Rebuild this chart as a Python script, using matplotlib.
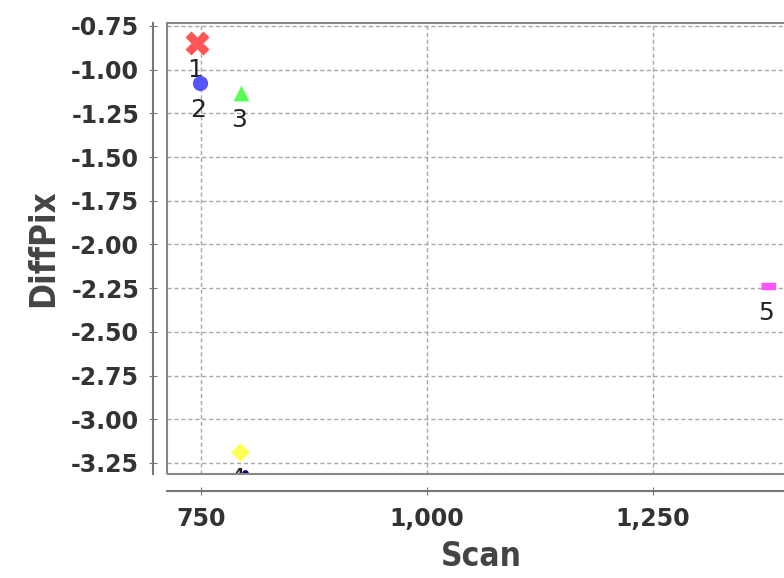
import matplotlib
matplotlib.use('Agg')
import matplotlib.pyplot as plt
from matplotlib.patches import Rectangle

# points
labels = ['1', '2', '3', '4', '5']
scan = [745.6, 749.0, 794.0, 793.0, 1377.0]
diffpix = [-0.847, -1.075, -1.132, -3.187, -2.236]
colors = ['#ff5555', '#5555ff', '#55ff55', '#ffff55', '#ff55ff']
markers = ['X', 'o', '^', 'D', 's']

# stray dark blue dot near the bottom edge
extra_x = [799.0]
extra_y = [-3.31]

xticks = [750, 1000, 1250]
xticklabels = ['750', '1,000', '1,250']
yticks = [-3.25, -3.0, -2.75, -2.5, -2.25, -2.0, -1.75, -1.5, -1.25, -1.0, -0.75]

W, H = 784, 578
fig = plt.figure(figsize=(W / 100, H / 100), dpi=100)
x0, x1 = 712.4, 1407
pxu = 0.904
ax = fig.add_axes([167 / W, 1 - 474 / H, (x1 - x0) * pxu / W, (474 - 23) / H])

for sp in ['top', 'right']:
    ax.spines[sp].set_visible(False)
ax.spines['left'].set_position(('outward', 10))
ax.spines['bottom'].set_position(('outward', 12))
for sp in ['left', 'bottom']:
    ax.spines[sp].set_color('#777777')
    ax.spines[sp].set_linewidth(1.5)
ax.add_patch(Rectangle((0, 0), 1, 1, transform=ax.transAxes, fill=False,
                       ec='#888888', lw=1.5, clip_on=False, zorder=5))

ax.set_xticks(xticks)
ax.set_xticklabels(xticklabels)
ax.set_yticks(yticks)
ax.set_yticklabels(['%.2f' % v for v in yticks])
ax.set_xlim(x0, x1)
ax.set_ylim(-3.313, -0.733)
ax.tick_params(direction='inout', length=6, color='#777777', labelsize=17,
               labelcolor='#333333')
for t in ax.get_xticklabels() + ax.get_yticklabels():
    t.set_fontweight('bold')
ax.tick_params(axis='y', pad=7)
ax.tick_params(axis='x', pad=9)

ax.grid(True, linestyle=(0, (3, 2)), color='#a8a8a8', linewidth=1)
ax.set_axisbelow(True)

sizes = [300, 120, 130, 90, 100]
for i in range(len(scan)):
    if markers[i] == 's':
        ax.scatter(scan[i], diffpix[i], marker=[(-1, -0.5), (1, -0.5), (1, 0.5), (-1, 0.5)],
                   s=sizes[i], color=colors[i], zorder=3)
    else:
        ax.scatter(scan[i], diffpix[i], marker=markers[i], s=sizes[i],
                   color=colors[i], zorder=3, linewidths=0)
    t = ax.annotate(labels[i], (scan[i], diffpix[i]), xytext=(-2, -27),
                    textcoords='offset pixels', ha='center', va='center',
                    fontsize=18, color='#222222', clip_on=True)
    t.set_clip_path(ax.patch)

ax.scatter(extra_x, extra_y, s=14, color='#000080', zorder=3)

ax.set_xlabel('Scan', fontsize=24, fontweight='bold', fontstretch='condensed',
              color='#444444', labelpad=6)
ax.set_ylabel('DiffPix', fontsize=25, fontweight='bold', fontstretch='condensed',
              color='#444444', labelpad=8)

fig.savefig('out.png', dpi=100)
